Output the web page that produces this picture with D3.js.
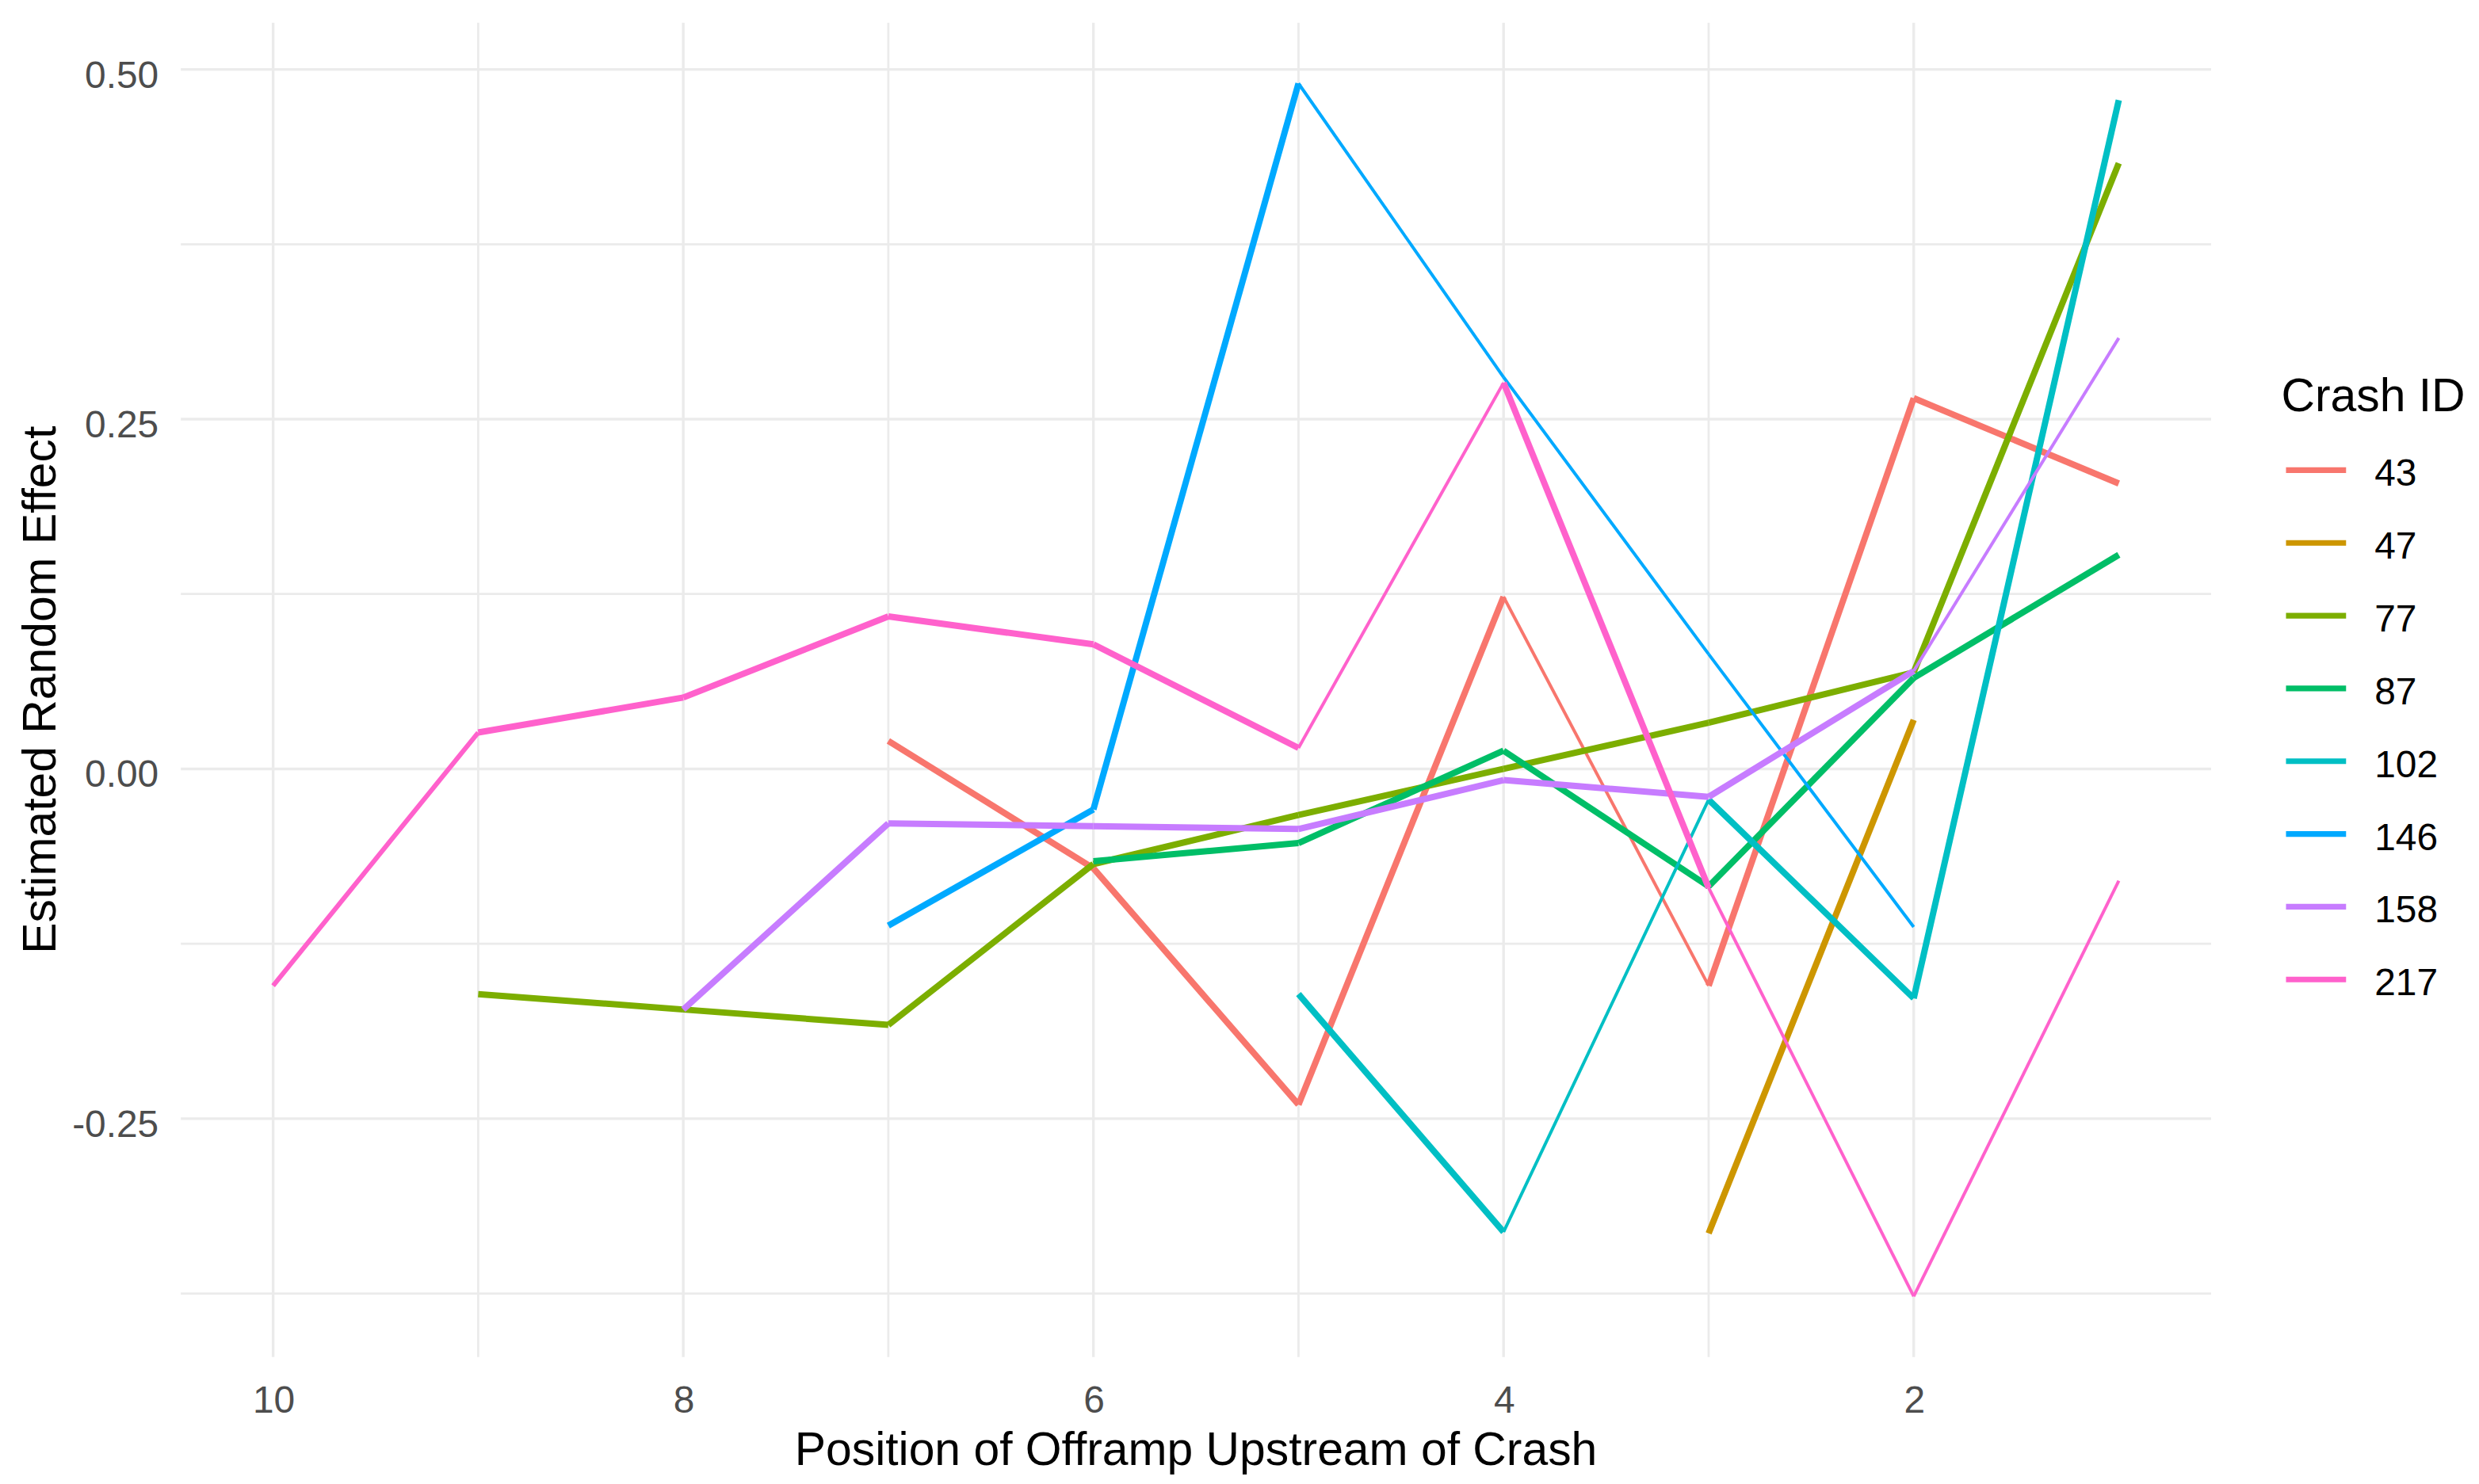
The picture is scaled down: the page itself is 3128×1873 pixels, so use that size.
<!DOCTYPE html>
<html>
<head>
<meta charset="utf-8">
<script src="https://cdn.jsdelivr.net/npm/d3@7"></script>
<style>
  body { margin: 0; background: #fff; }
  svg text { font-family: "Liberation Sans", Arial, sans-serif; }
</style>
</head>
<body>
<svg id="chart"></svg>
<script>
'use strict'

// crash ids, in legend order
const crashIds = ['43', '47', '77', '87', '102', '146', '158', '217']

// position of offramp upstream (x) and estimated random effect (y) per crash
const pos43 = [7, 6, 5, 4, 3, 2, 1]
const eff43 = [0.020, -0.071, -0.240, 0.123, -0.155, 0.265, 0.204]
const pos47 = [3, 2]
const eff47 = [-0.332, 0.035]
const pos77 = [9, 8, 7, 6, 5, 4, 3, 2, 1]
const eff77 = [-0.161, -0.172, -0.183, -0.068, -0.033, 0.000, 0.033, 0.069, 0.433]
const pos87 = [6, 5, 4, 3, 2, 1]
const eff87 = [-0.066, -0.053, 0.013, -0.084, 0.065, 0.153]
const pos102 = [5, 4, 3, 2, 1]
const eff102 = [-0.161, -0.331, -0.022, -0.164, 0.478]
const pos146 = [7, 6, 5, 4, 3, 2]
const eff146 = [-0.112, -0.029, 0.490, 0.280, 0.082, -0.113]
const pos158 = [8, 7, 6, 5, 4, 3, 2, 1]
const eff158 = [-0.172, -0.039, -0.041, -0.043, -0.008, -0.020, 0.070, 0.308]
const pos217 = [10, 9, 8, 7, 6, 5, 4, 3, 2, 1]
const eff217 = [-0.155, 0.026, 0.051, 0.109, 0.089, 0.015, 0.276, -0.085, -0.377, -0.080]

// size level of each segment (mapped to line width)
const lvl43 = [3, 3, 3, 1, 3, 3]
const lvl47 = [3]
const lvl77 = [3, 3, 3, 3, 3, 3, 3, 3]
const lvl87 = [3, 3, 3, 3, 3]
const lvl102 = [3, 1, 3, 3]
const lvl146 = [3, 3, 1, 1, 1]
const lvl158 = [3, 3, 3, 3, 3, 3, 1]
const lvl217 = [2, 3, 3, 3, 3, 1, 3, 1, 1]

// tick labels
const xMajor = [10, 8, 6, 4, 2]
const xMinor = [9, 7, 5, 3]
const yMajor = [0.50, 0.25, 0.00, -0.25]
const yMinor = [0.375, 0.125, -0.125, -0.375]

const series = [
	{id: '43', pos: pos43, eff: eff43, lvl: lvl43},
	{id: '47', pos: pos47, eff: eff47, lvl: lvl47},
	{id: '77', pos: pos77, eff: eff77, lvl: lvl77},
	{id: '87', pos: pos87, eff: eff87, lvl: lvl87},
	{id: '102', pos: pos102, eff: eff102, lvl: lvl102},
	{id: '146', pos: pos146, eff: eff146, lvl: lvl146},
	{id: '158', pos: pos158, eff: eff158, lvl: lvl158},
	{id: '217', pos: pos217, eff: eff217, lvl: lvl217}
]

function draw(){
	// drawn in a 1568 wide space, scaled up to the window
	const W = 1568, H = 939
	const panel = {left: 114.3, right: 1398.6, top: 14.4, bottom: 858.6}

	const svg = d3.select('#chart')
		.attr('width', 3128)
		.attr('height', 1873)
		.attr('viewBox', `0 0 ${W} ${H}`)

	const allPos = series.flatMap(s => s.pos)
	const allEff = series.flatMap(s => s.eff)
	const [xMin, xMax] = d3.extent(allPos)
	const [yMin, yMax] = d3.extent(allEff)
	const xPad = (xMax - xMin) * 0.05
	const yPad = (yMax - yMin) * 0.05

	// x is reversed: far offramps on the left
	const x = d3.scaleLinear()
		.domain([xMax + xPad, xMin - xPad])
		.range([panel.left, panel.right])
	const y = d3.scaleLinear()
		.domain([yMin - yPad, yMax + yPad])
		.range([panel.bottom, panel.top])

	const colour = d3.scaleOrdinal()
		.domain(crashIds)
		.range(['#F8766D', '#CD9600', '#7CAE00', '#00BE67', '#00BFC4', '#00A9FF', '#C77CFF', '#FF61CC'])
	const width = d3.scaleOrdinal().domain([1, 2, 3]).range([2.0, 3.0, 4.0])

	// grid
	const grid = svg.append('g').attr('stroke', '#EBEBEB').attr('fill', 'none')
	grid.selectAll('line.ymin').data(yMinor).join('line')
		.attr('x1', panel.left).attr('x2', panel.right)
		.attr('y1', d => y(d)).attr('y2', d => y(d))
		.attr('stroke-width', 1.4)
	grid.selectAll('line.xmin').data(xMinor).join('line')
		.attr('y1', panel.top).attr('y2', panel.bottom)
		.attr('x1', d => x(d)).attr('x2', d => x(d))
		.attr('stroke-width', 1.4)
	grid.selectAll('line.ymaj').data(yMajor).join('line')
		.attr('x1', panel.left).attr('x2', panel.right)
		.attr('y1', d => y(d)).attr('y2', d => y(d))
		.attr('stroke-width', 1.7)
	grid.selectAll('line.xmaj').data(xMajor).join('line')
		.attr('y1', panel.top).attr('y2', panel.bottom)
		.attr('x1', d => x(d)).attr('x2', d => x(d))
		.attr('stroke-width', 1.7)

	// lines, one segment at a time since the width varies
	const line = d3.line().x(d => x(d[0])).y(d => y(d[1]))
	series.forEach(s => {
		const segs = d3.pairs(d3.zip(s.pos, s.eff)).map((p, i) => ({p: p, lvl: s.lvl[i]}))
		svg.append('g')
			.selectAll('path')
			.data(segs)
			.join('path')
			.attr('d', d => line(d.p))
			.attr('fill', 'none')
			.attr('stroke', colour(s.id))
			.attr('stroke-width', d => width(d.lvl))
			.attr('stroke-linecap', 'butt')
	})

	// axes, R style hyphen for negatives
	const fmt2 = d3.format('.2f')
	const xAxis = svg.append('g')
		.attr('transform', `translate(0,${panel.bottom})`)
		.call(d3.axisBottom(x).tickValues(xMajor).tickFormat(d3.format('d')).tickSize(0).tickPadding(18.4))
	const yAxis = svg.append('g')
		.attr('transform', `translate(${panel.left},0)`)
		.call(d3.axisLeft(y).tickValues(yMajor).tickFormat(d => fmt2(d).replace('\u2212', '-')).tickSize(0).tickPadding(14))
	;[xAxis, yAxis].forEach(a => {
		a.select('.domain').remove()
		a.selectAll('text')
			.attr('fill', '#4D4D4D')
			.style('font-size', '24px')
			.attr('font-family', null)
	})
	yAxis.selectAll('text').attr('dy', '0.46em')

	svg.append('text')
		.attr('x', (panel.left + panel.right) / 2)
		.attr('y', 927)
		.attr('text-anchor', 'middle')
		.style('font-size', '29.5px')
		.text('Position of Offramp Upstream of Crash')

	svg.append('text')
		.attr('transform', `translate(35,${(panel.top + panel.bottom) / 2}) rotate(-90)`)
		.attr('text-anchor', 'middle')
		.style('font-size', '29.5px')
		.text('Estimated Random Effect')

	// legend
	const legend = svg.append('g').attr('transform', 'translate(1443,0)')
	legend.append('text')
		.attr('x', 0).attr('y', 260)
		.style('font-size', '29.5px')
		.text('Crash ID')
	const keys = legend.selectAll('g.key')
		.data(crashIds)
		.join('g')
		.attr('class', 'key')
		.attr('transform', (d, i) => `translate(0,${297.5 + i * 46.04})`)
	keys.append('line')
		.attr('x1', 3).attr('x2', 41)
		.attr('stroke', d => colour(d))
		.attr('stroke-width', 3.6)
	keys.append('text')
		.attr('x', 59).attr('y', 10)
		.style('font-size', '24px')
		.text(d => d)
}

draw()
</script>
</body>
</html>
